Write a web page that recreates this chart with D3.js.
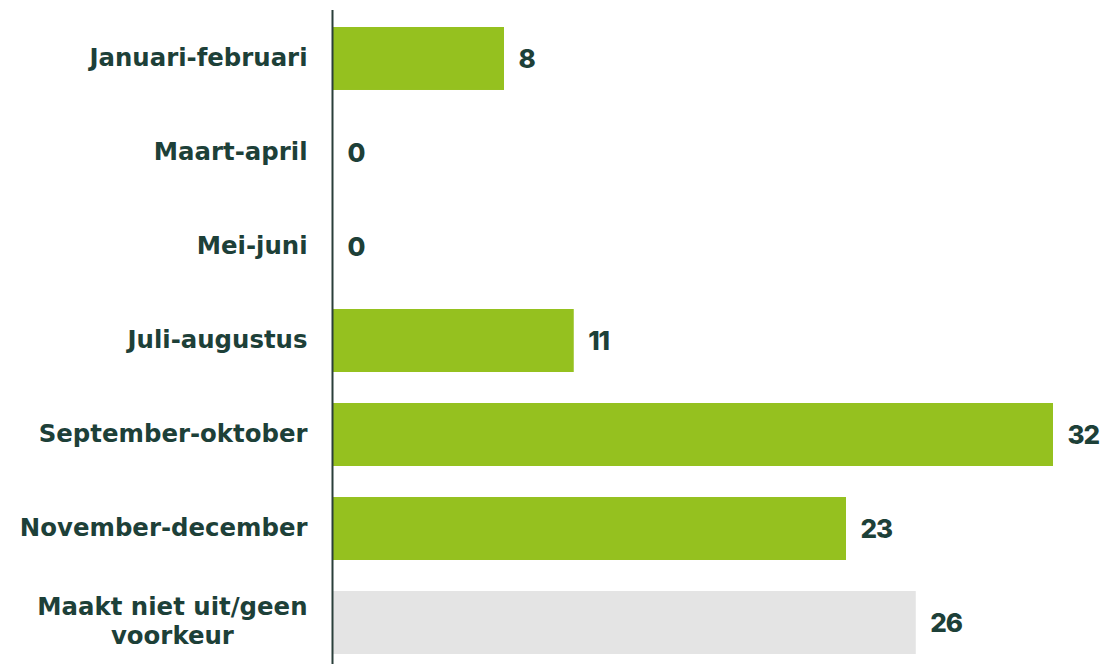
<!DOCTYPE html>
<html>
<head>
<meta charset="utf-8">
<script src="https://cdn.jsdelivr.net/npm/d3@7"></script>
<style>
  html, body { margin: 0; padding: 0; background: #ffffff; }
  svg { display: block; }
</style>
</head>
<body>
<svg id="chart" width="1107" height="664"></svg>
<script>
const categories = ["Januari-februari", "Maart-april", "Mei-juni", "Juli-augustus", "September-oktober", "November-december", "Maakt niet uit/geen voorkeur"];
const values = [7.6, 0, 0, 10.7, 32.0, 22.8, 25.9];
const valueLabels = ["8", "0", "0", "11", "32", "23", "26"];
const barColors = ["#95c11f", "#95c11f", "#95c11f", "#95c11f", "#95c11f", "#95c11f", "#e4e4e4"];

const svg = d3.select("#chart");
const textColor = "#1d4038";
const axisX = 333;
const catFont = "'DejaVu Sans', sans-serif";
const valFont = "Inter, 'Open Sans', sans-serif";

const x = d3.scaleLinear().domain([0, 32]).range([axisX, 1053]);
const y = d3.scaleBand().domain(categories).range([27, 654]).paddingInner(0.33).paddingOuter(0);

// bars
svg.selectAll("rect.bar").data(categories).join("rect")
  .attr("class", "bar")
  .attr("x", x(0))
  .attr("y", d => y(d))
  .attr("width", (d, i) => x(values[i]) - x(0))
  .attr("height", y.bandwidth())
  .attr("fill", (d, i) => barColors[i]);

// value labels
svg.selectAll("text.val").data(categories).join("text")
  .attr("class", "val")
  .attr("x", (d, i) => x(values[i]) + 14.5)
  .attr("y", d => y(d) + y.bandwidth() / 2)
  .attr("dy", "0.37em")
  .attr("font-family", valFont)
  .attr("font-weight", 800)
  .attr("font-size", 26)
  .attr("letter-spacing", "-1.2px")
  .attr("fill", textColor)
  .text((d, i) => valueLabels[i]);

// category axis
const pad = 25;
const yAxis = d3.axisLeft(y).tickSize(0).tickPadding(pad);
const g = svg.append("g").attr("transform", `translate(${axisX - 0.5},0)`).call(yAxis);
g.select(".domain").remove();
g.selectAll(".tick text")
  .attr("font-family", catFont)
  .attr("font-weight", 700)
  .attr("font-size", 24.4)
  .attr("dy", "0.3em")
  .attr("fill", textColor)
  .each(function(d) {
    if (d === "Maakt niet uit/geen voorkeur") {
      const t = d3.select(this);
      t.text(null).attr("dy", null);
      const first = t.append("tspan").attr("y", -7.5).text("Maakt niet uit/geen");
      const w = first.node().getComputedTextLength();
      const cx = -pad - w / 2;
      t.attr("text-anchor", "middle");
      first.attr("x", cx);
      t.append("tspan").attr("x", cx).attr("y", 21.5).text("voorkeur");
    }
  });

// axis line
svg.append("line")
  .attr("x1", axisX - 0.5).attr("x2", axisX - 0.5)
  .attr("y1", 10).attr("y2", 664)
  .attr("stroke", "#2a3f3a").attr("stroke-width", 2);
</script>
</body>
</html>
